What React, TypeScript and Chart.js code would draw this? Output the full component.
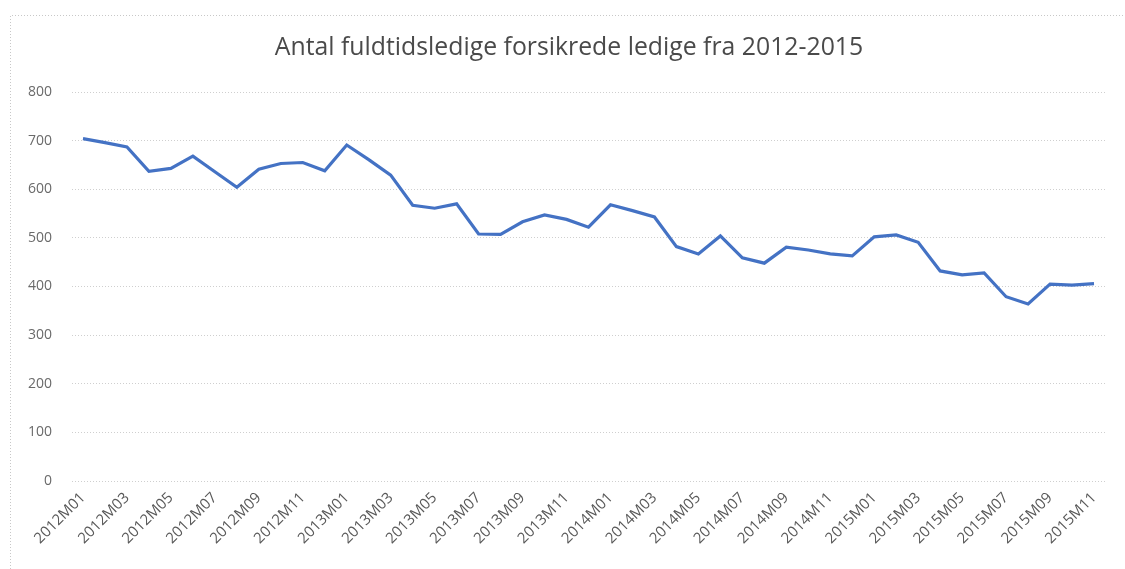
import React, { useEffect, useRef } from "react";
import { Chart, registerables } from "chart.js";

Chart.register(...registerables);

const years = [2012, 2013, 2014, 2015];
const months = ["01", "02", "03", "04", "05", "06", "07", "08", "09", "10", "11", "12"];
const categories: string[] = [];
years.forEach((y) => months.forEach((m) => categories.push(`${y}M${m}`)));
const labels = categories.slice(0, 47); // 2012M01 .. 2015M11

const values = [
  704, 696, 687, 637, 643, 668, 636, 604, 641, 653, 655, 638,
  691, 661, 629, 567, 561, 570, 508, 507, 533, 547, 538, 522,
  568, 556, 543, 482, 467, 504, 459, 448, 481, 475, 467, 463,
  502, 506, 491, 432, 424, 428, 379, 364, 405, 403, 406,
];

const yTicks = [0, 100, 200, 300, 400, 500, 600, 700, 800];
const title = "Antal fuldtidsledige forsikrede ledige fra 2012-2015";

const decorPlugin = {
  id: "decor",
  beforeDraw(chart: any) {
    const ctx = chart.ctx;
    ctx.save();
    ctx.fillStyle = "#ffffff";
    ctx.fillRect(0, 0, chart.width, chart.height);
    ctx.strokeStyle = "#c8c8c8";
    ctx.lineWidth = 1;
    ctx.setLineDash([1, 2]);
    ctx.beginPath();
    ctx.moveTo(10.5, chart.height);
    ctx.lineTo(10.5, 15.5);
    ctx.lineTo(chart.width, 15.5);
    ctx.stroke();
    ctx.setLineDash([]);
    ctx.fillStyle = "#4a4a4a";
    ctx.font = "24.8px 'Open Sans'";
    ctx.textAlign = "center";
    ctx.textBaseline = "middle";
    ctx.fillText(title, 569, 48);
    ctx.restore();
  },
};

export default function App() {
  const ref = useRef<HTMLCanvasElement | null>(null);
  useEffect(() => {
    if (!ref.current) return;
    const chart = new Chart(ref.current, {
      type: "line",
      data: {
        labels,
        datasets: [
          {
            data: values,
            borderColor: "#4472c4",
            borderWidth: 3.2,
            pointRadius: 0,
            tension: 0,
            fill: false,
          },
        ],
      },
      options: {
        animation: false,
        responsive: false,
        layout: { padding: { left: 10, right: 20, top: 92, bottom: 4 } },
        plugins: { legend: { display: false }, tooltip: { enabled: false }, title: { display: false } },
        scales: {
          x: {
            offset: true,
            grid: { display: false, drawTicks: false },
            border: { display: false },
            ticks: {
              autoSkip: false,
              maxRotation: 45,
              minRotation: 45,
              padding: 8,
              color: "#595959",
              font: { family: "'Open Sans'", size: 15 },
              callback: (_v: any, i: number) => (i % 2 === 0 ? labels[i] : null),
            },
            afterFit: (s: any) => {
              s.height = 84;
            },
          },
          y: {
            min: 0,
            max: 800,
            afterBuildTicks: (s: any) => {
              s.ticks = yTicks.map((v) => ({ value: v }));
            },
            grid: { color: "#cfcfcf", drawTicks: false, lineWidth: 1 },
            border: { display: false, dash: [1, 2] },
            ticks: {
              padding: 20,
              color: "#6a6a6a",
              font: { family: "'Open Sans'", size: 14 },
            },
            afterFit: (s: any) => {
              s.width = 62;
            },
          },
        },
      },
      plugins: [decorPlugin],
    });
    return () => chart.destroy();
  }, []);
  return (
    <div style={{ position: "fixed", left: 0, top: 0, width: 1125, height: 569 }}>
      <canvas ref={ref} width={1125} height={569} />
    </div>
  );
}
